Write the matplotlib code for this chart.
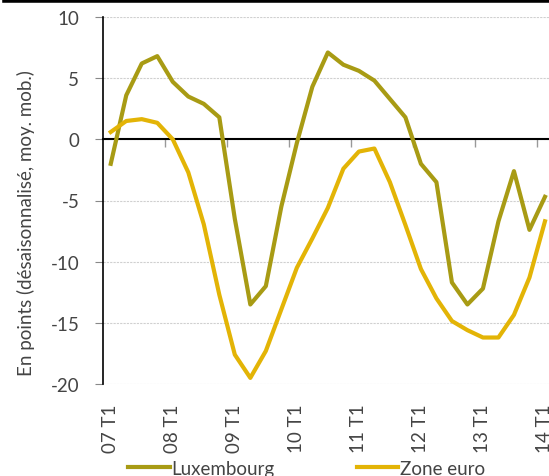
import matplotlib.pyplot as plt
from matplotlib.lines import Line2D

plt.rcParams['font.family'] = ['Lato', 'DejaVu Sans']
plt.rcParams['axes.unicode_minus'] = False

# trimestres 2007 T1 -> 2014 T1
quarters = list(range(29))
tick_labels = ["07 T1", "08 T1", "09 T1", "10 T1", "11 T1", "12 T1", "13 T1", "14 T1"]

luxembourg = [-2.0, 3.6, 6.2, 6.8, 4.7, 3.5, 2.9, 1.8,
              -6.5, -13.5, -12.0, -5.5, -0.3, 4.3, 7.1, 6.1,
              5.6, 4.8, 3.3, 1.8, -2.0, -3.5, -11.7, -13.5,
              -12.2, -6.7, -2.6, -7.4, -4.7]
zone_euro = [0.6, 1.5, 1.65, 1.35, 0.0, -2.7, -6.95, -12.7,
             -17.6, -19.5, -17.3, -13.9, -10.5, -8.1, -5.6, -2.4,
             -1.0, -0.75, -3.5, -7.0, -10.6, -13.0, -14.85, -15.6,
             -16.2, -16.2, -14.35, -11.3, -6.7]

c_lux = "#a89b14"
c_eur = "#e3b406"
txt = "#444444"

fig = plt.figure(figsize=(5.49, 4.77), dpi=100)
ax = fig.add_axes([103 / 549, 1 - 385 / 477, 1 - 103 / 549, 367 / 477])

ax.plot(quarters, luxembourg, color=c_lux, lw=3, zorder=3)
ax.plot(quarters, zone_euro, color=c_eur, lw=3, zorder=3)

ax.set_ylim(-20, 10)
ax.set_xlim(-0.5, 28.26)
ax.set_yticks(range(-20, 11, 5))
ax.grid(axis='y', color='#d0d0d0', lw=0.8, ls=(0, (2, 1)))
ax.tick_params(axis='y', length=6, color='#888888', labelsize=13.5, labelcolor=txt, pad=11)

for s in ['top', 'right']:
    ax.spines[s].set_visible(False)
ax.spines['left'].set_color('black')
ax.spines['left'].set_linewidth(1.2)
ax.spines['bottom'].set_position(('data', 0))
ax.spines['bottom'].set_color('black')
ax.spines['bottom'].set_linewidth(1.5)
ax.spines['bottom'].set_zorder(2)

# petites graduations sur l'axe zero entre les annees
ax.set_xticks([q - 0.5 for q in quarters[4::4]])
ax.set_xticklabels([])
ax.tick_params(axis='x', length=6, color='#999999', width=1)

# etiquettes de l'axe des x en bas
sec = ax.secondary_xaxis(0.0)
sec.set_xticks(quarters[::4])
sec.set_xticklabels(tick_labels, rotation=90, fontsize=13.5, color=txt)
sec.tick_params(length=0, pad=14)
sec.spines['bottom'].set_visible(False)

ax.set_ylabel("En points (désaisonnalisé, moy. mob.)", fontsize=13.5, color=txt)
ax.yaxis.set_label_coords(-0.152, 0.44)

handles = [Line2D([], [], color=c_lux, lw=3), Line2D([], [], color=c_eur, lw=3)]
fig.legend(handles, ["Luxembourg", "Zone euro"], loc='center left',
           bbox_to_anchor=(0.203, 0.016), ncol=2, frameon=False, fontsize=13.5,
           handlelength=2.2, handletextpad=0.1, columnspacing=4.4,
           labelcolor=txt)

# barre noire en haut
fig.add_artist(Line2D([0.01, 1], [0.998, 0.998], color='black', lw=4, transform=fig.transFigure))

fig.savefig("out.png", dpi=100)
